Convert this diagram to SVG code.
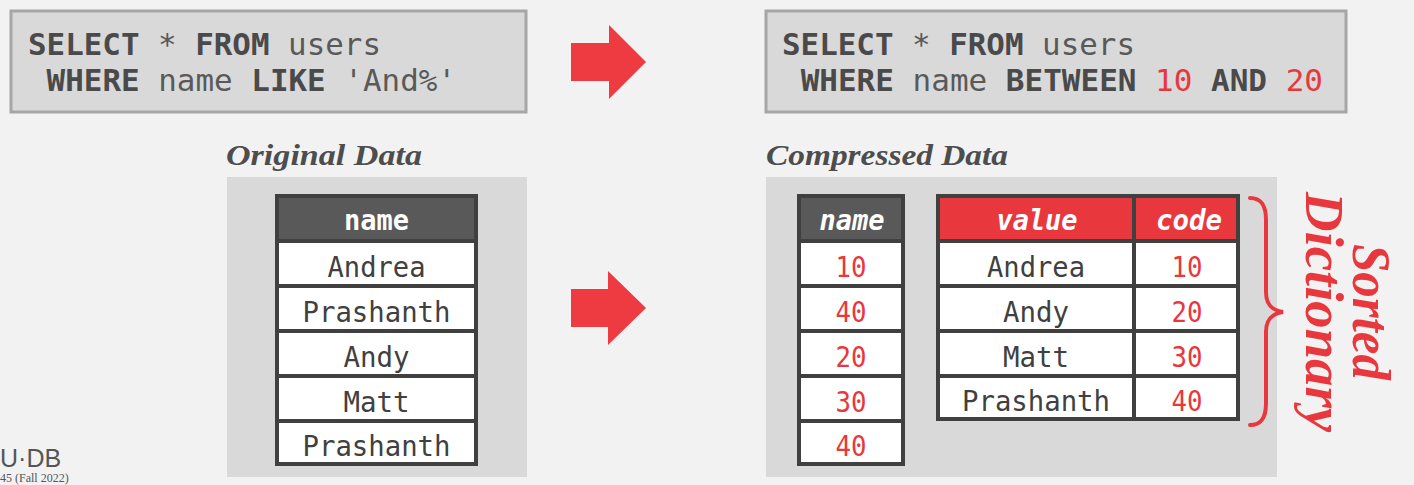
<svg xmlns="http://www.w3.org/2000/svg" width="1414" height="485" viewBox="0 0 1414 485">
<style>
.bg{fill:#f2f2f2}
.panel{fill:#d9d9d9}
.sqlbox{fill:#d9d9d9;stroke:#a6a6a6;stroke-width:3}
.sql{font-family:"DejaVu Sans Mono","Liberation Mono",monospace;font-size:30px;fill:#595959}
.kw{font-weight:bold;fill:#4a4a4a}
.num{fill:#e8383d}
.title{font-family:"Liberation Serif",serif;font-style:italic;font-weight:bold;font-size:29px;fill:#4d4d4d}
.cell{fill:#ffffff;stroke:#404040;stroke-width:4}
.hdr{fill:#595959;stroke:#404040;stroke-width:4}
.hdrred{fill:#e8383d;stroke:#404040;stroke-width:4}
.ht{font-family:"DejaVu Sans Mono","Liberation Mono",monospace;font-weight:bold;font-size:28px;fill:#ffffff;text-anchor:middle}
.hti{font-style:italic}
.ct{font-family:"DejaVu Sans Mono","Liberation Mono",monospace;font-size:29px;fill:#404040;text-anchor:middle}
.cn{font-family:"DejaVu Sans Mono","Liberation Mono",monospace;font-size:29px;fill:#e8383d;text-anchor:middle}
.arrow{fill:#ee3b41}
.brace{fill:none;stroke:#e8383d;stroke-width:4;stroke-linecap:round}
.side{font-family:"Liberation Serif",serif;font-style:italic;font-weight:bold;font-size:55px;fill:#e8383d;text-anchor:middle}
.foot{font-family:"Liberation Sans",sans-serif;font-size:25px;fill:#555555}
.footsub{font-family:"Liberation Serif",serif;font-size:12px;fill:#555555}
</style>
<rect class="bg" x="0" y="0" width="1414" height="485"/>

<g id="query-original">
<rect class="sqlbox" x="11" y="11" width="515" height="101"/>
<text class="sql" x="28" y="55" textLength="353" lengthAdjust="spacingAndGlyphs"><tspan class="kw">SELECT</tspan> * <tspan class="kw">FROM</tspan> users</text>
<text class="sql" x="28" y="91" textLength="428" lengthAdjust="spacingAndGlyphs" xml:space="preserve"> <tspan class="kw">WHERE</tspan> name <tspan class="kw">LIKE</tspan> 'And%'</text>
</g>

<g id="query-compressed">
<rect class="sqlbox" x="766" y="11" width="580" height="101"/>
<text class="sql" x="782" y="55" textLength="353" lengthAdjust="spacingAndGlyphs"><tspan class="kw">SELECT</tspan> * <tspan class="kw">FROM</tspan> users</text>
<text class="sql" x="782" y="91" textLength="541" lengthAdjust="spacingAndGlyphs" xml:space="preserve"> <tspan class="kw">WHERE</tspan> name <tspan class="kw">BETWEEN</tspan> <tspan class="num">10</tspan> <tspan class="kw">AND</tspan> <tspan class="num">20</tspan></text>
</g>

<g id="connectors">
<polygon class="arrow" points="571,43 609,43 609,25 646,62 609,99 609,81 571,81"/>
<polygon class="arrow" points="571,289 608,289 608,271 646,308 608,345 608,327 571,327"/>
</g>

<g id="original-data">
<text class="title" x="226" y="165" textLength="196" lengthAdjust="spacingAndGlyphs">Original Data</text>
<rect class="panel" x="227" y="177" width="300" height="300"/>
<rect class="hdr" x="277" y="196" width="199" height="45"/>
<rect class="cell" x="277" y="241" width="199" height="45"/>
<rect class="cell" x="277" y="286" width="199" height="45"/>
<rect class="cell" x="277" y="331" width="199" height="45"/>
<rect class="cell" x="277" y="376" width="199" height="45"/>
<rect class="cell" x="277" y="421" width="199" height="43"/>
<text class="ht" x="376.5" y="230" textLength="65" lengthAdjust="spacingAndGlyphs">name</text>
<text class="ct" x="376.5" y="277" textLength="98" lengthAdjust="spacingAndGlyphs">Andrea</text>
<text class="ct" x="376.5" y="322" textLength="148" lengthAdjust="spacingAndGlyphs">Prashanth</text>
<text class="ct" x="376.5" y="367" textLength="66" lengthAdjust="spacingAndGlyphs">Andy</text>
<text class="ct" x="376.5" y="412" textLength="66" lengthAdjust="spacingAndGlyphs">Matt</text>
<text class="ct" x="376.5" y="456" textLength="148" lengthAdjust="spacingAndGlyphs">Prashanth</text>
</g>

<g id="compressed-data">
<text class="title" x="766" y="165" textLength="242" lengthAdjust="spacingAndGlyphs">Compressed Data</text>
<rect class="panel" x="766" y="177" width="511" height="300"/>
</g>

<g id="compressed-names">
<rect class="hdr" x="799" y="196" width="104" height="45"/>
<rect class="cell" x="799" y="241" width="104" height="45"/>
<rect class="cell" x="799" y="286" width="104" height="45"/>
<rect class="cell" x="799" y="331" width="104" height="45"/>
<rect class="cell" x="799" y="376" width="104" height="45"/>
<rect class="cell" x="799" y="421" width="104" height="43"/>
<text class="ht hti" x="852" y="230" textLength="65" lengthAdjust="spacingAndGlyphs">name</text>
<text class="cn" x="851" y="277" textLength="31" lengthAdjust="spacingAndGlyphs">10</text>
<text class="cn" x="851" y="322" textLength="31" lengthAdjust="spacingAndGlyphs">40</text>
<text class="cn" x="851" y="367" textLength="31" lengthAdjust="spacingAndGlyphs">20</text>
<text class="cn" x="851" y="412" textLength="31" lengthAdjust="spacingAndGlyphs">30</text>
<text class="cn" x="851" y="456" textLength="31" lengthAdjust="spacingAndGlyphs">40</text>
</g>

<g id="dictionary">
<rect class="hdrred" x="938" y="196" width="196" height="45"/>
<rect class="hdrred" x="1134" y="196" width="104" height="45"/>
<rect class="cell" x="938" y="241" width="196" height="45"/>
<rect class="cell" x="1134" y="241" width="104" height="45"/>
<rect class="cell" x="938" y="286" width="196" height="45"/>
<rect class="cell" x="1134" y="286" width="104" height="45"/>
<rect class="cell" x="938" y="331" width="196" height="45"/>
<rect class="cell" x="1134" y="331" width="104" height="45"/>
<rect class="cell" x="938" y="376" width="196" height="43"/>
<rect class="cell" x="1134" y="376" width="104" height="43"/>
<text class="ht hti" x="1037" y="230" textLength="81" lengthAdjust="spacingAndGlyphs">value</text>
<text class="ht hti" x="1189" y="230" textLength="66" lengthAdjust="spacingAndGlyphs">code</text>
<text class="ct" x="1036" y="277" textLength="98" lengthAdjust="spacingAndGlyphs">Andrea</text>
<text class="ct" x="1036" y="322" textLength="66" lengthAdjust="spacingAndGlyphs">Andy</text>
<text class="ct" x="1036" y="367" textLength="66" lengthAdjust="spacingAndGlyphs">Matt</text>
<text class="ct" x="1036" y="411" textLength="148" lengthAdjust="spacingAndGlyphs">Prashanth</text>
<text class="cn" x="1187" y="277" textLength="31" lengthAdjust="spacingAndGlyphs">10</text>
<text class="cn" x="1187" y="322" textLength="31" lengthAdjust="spacingAndGlyphs">20</text>
<text class="cn" x="1187" y="367" textLength="31" lengthAdjust="spacingAndGlyphs">30</text>
<text class="cn" x="1187" y="411" textLength="31" lengthAdjust="spacingAndGlyphs">40</text>
</g>

<g id="sorted-dictionary-label">
<path class="brace" d="M1250,198 C1261,198 1266,205 1266,220 L1266,292 C1266,304 1271,310 1283,312 C1271,314 1266,320 1266,332 L1266,403 C1266,418 1261,425 1250,425"/>
<text class="side" transform="translate(1353,312) rotate(90)" x="0" y="0" textLength="136" lengthAdjust="spacingAndGlyphs">Sorted</text>
<text class="side" transform="translate(1306,312) rotate(90)" x="0" y="0" textLength="240" lengthAdjust="spacingAndGlyphs">Dictionary</text>
</g>

<g id="footer">
<text class="foot" x="0" y="467">U·DB</text>
<text class="footsub" x="0" y="482">45 (Fall 2022)</text>
</g>
</svg>
